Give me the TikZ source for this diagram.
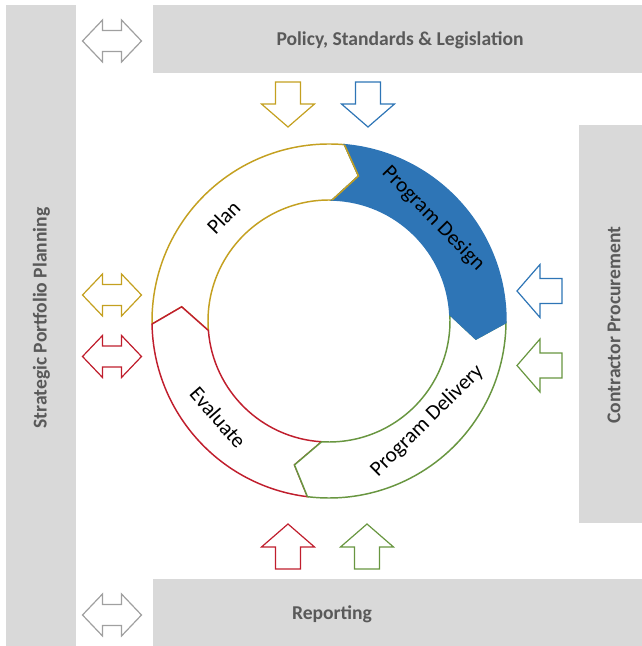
\documentclass[tikz,border=0pt]{standalone}
\usepackage{fontspec}
\setmainfont{Carlito}
\usetikzlibrary{positioning}
\definecolor{bargray}{RGB}{217, 217, 217}
\definecolor{textgray}{RGB}{89, 89, 89}
\definecolor{arrowgray}{RGB}{160, 160, 160}
\definecolor{plangold}{RGB}{196, 160, 32}
\definecolor{designblue}{RGB}{46, 117, 182}
\definecolor{deliverygreen}{RGB}{104, 150, 64}
\definecolor{evalred}{RGB}{192, 30, 45}

% ring segment: options, start angle (notch), end angle (tip)
\newcommand{\ringseg}[3]{%
  \draw[segment, #1] (#2:177) arc[start angle=#2, end angle=#3, radius=177]
    -- ({#3-6.5}:148) -- ({#3+3.5}:121)
    arc[start angle={#3+3.5}, end angle={#2+3.5}, radius=121]
    -- ({#2-6.5}:148) -- cycle;}
% block arrow: colour, x, y, direction
\newcommand{\blockarrow}[4]{%
  \draw[blockarrowline, draw=#1, shift={(#2,#3)}, rotate=#4]
    (22.5,0) -- (-0.5,26.5) -- (-0.5,12.5) -- (-22.5,12.5)
    -- (-22.5,-12.5) -- (-0.5,-12.5) -- (-0.5,-26.5) -- cycle;}
% double block arrow: colour, x, y
\newcommand{\twowayarrow}[3]{%
  \draw[blockarrowline, draw=#1, shift={(#2,#3)}]
    (-29.5,0) -- (-9.5,21) -- (-9.5,10.5) -- (9.5,10.5) -- (9.5,21)
    -- (29.5,0) -- (9.5,-21) -- (9.5,-10.5) -- (-9.5,-10.5) -- (-9.5,-21) -- cycle;}

\begin{document}
\begin{tikzpicture}[
    x=0.75pt, y=0.75pt,
    % Styles
    bartext/.style={
        font=\fontsize{14.7}{17}\selectfont\bfseries, text=textgray
    },
    segment/.style={
        line width=1.1pt, fill=white, line join=miter
    },
    seglabel/.style={
        font=\fontsize{16}{19}\selectfont, text=black, inner sep=0pt
    },
    blockarrowline/.style={
        line width=0.9pt, fill=white, line join=miter
    }
]
    \useasboundingbox (0,0) rectangle (642,646);

    % --- 1. Grey bands ---
    \fill[bargray] (6,0) rectangle (76,641);
    \fill[bargray] (153,573) rectangle (642,641);
    \fill[bargray] (579,123) rectangle (642,521);
    \fill[bargray] (153,0) rectangle (642,67);

    \node[bartext] (policy) at (400,606) {Policy, Standards \& Legislation};
    \node[bartext, rotate=90] (strategic) at (41.5,328) {Strategic Portfolio Planning};
    \node[bartext, rotate=90] (contractor) at (614,321) {Contractor Procurement};
    \node[bartext] (reporting) at (332,32) {Reporting};

    % --- 2. The cycle ---
    \coordinate (hub) at (329,325);
    \begin{scope}[shift={(hub)}]
        \ringseg{draw=plangold}{181}{85}
        \ringseg{draw=evalred}{263}{181}
        \ringseg{draw=deliverygreen}{-0.5}{-97}
        \ringseg{draw=designblue, fill=designblue}{85}{-0.5}
        % tip of Plan stays on top
        \draw[segment, draw=plangold, fill=none] (85:177) -- (78.5:148) -- (88.5:121);

        \node[seglabel, rotate=45.5] (plan) at (135.5:148) {Plan};
        \node[seglabel, rotate=-45.5] (design) at (44.5:146) {Program Design};
        \node[seglabel, rotate=44.6] (delivery) at (-45.4:140) {Program Delivery};
        \node[seglabel, rotate=-49] (evaluate) at (221:147) {Evaluate};
    \end{scope}

    % --- 3. Block arrows ---
    \blockarrow{plangold}{288}{541.5}{-90}
    \blockarrow{designblue}{368}{541.5}{-90}
    \blockarrow{evalred}{288}{99.5}{90}
    \blockarrow{deliverygreen}{367}{99.5}{90}
    \blockarrow{designblue}{539.5}{355}{180}
    \blockarrow{deliverygreen}{539.5}{280.5}{180}

    \twowayarrow{arrowgray}{112}{605}
    \twowayarrow{plangold}{112}{351}
    \twowayarrow{evalred}{112}{289.5}
    \twowayarrow{arrowgray}{112}{31}

\end{tikzpicture}
\end{document}
